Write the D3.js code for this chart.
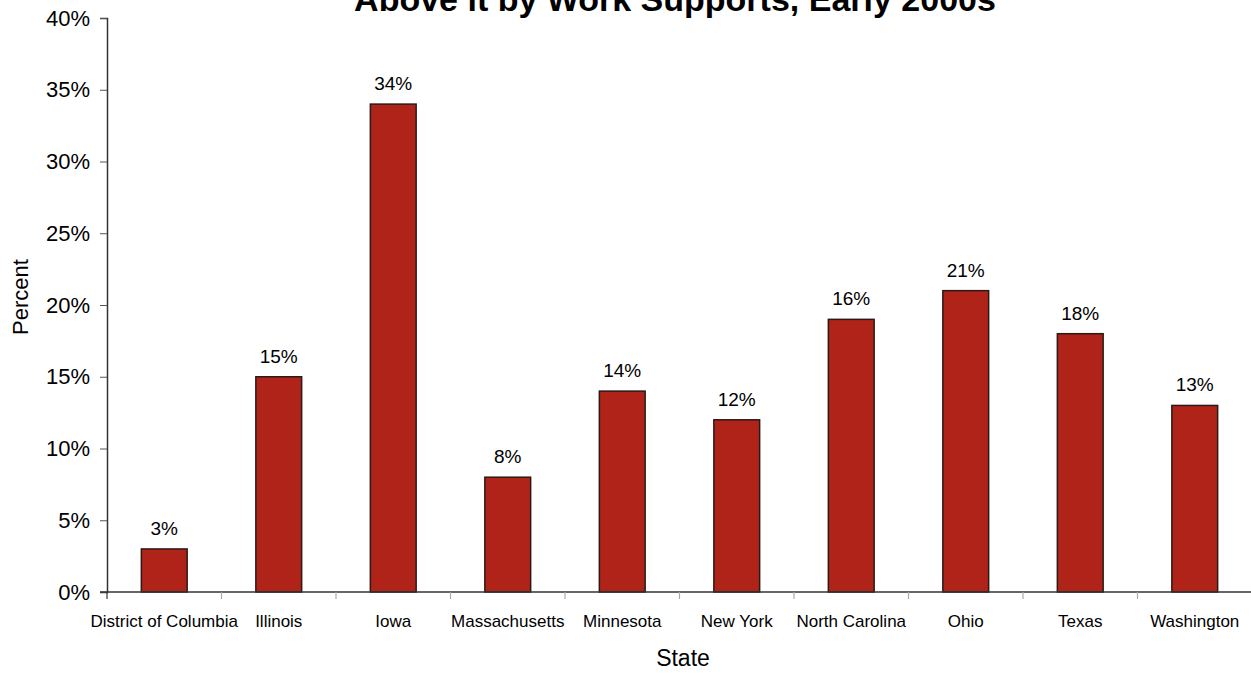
<!DOCTYPE html>
<html>
<head>
<meta charset="utf-8">
<script src="https://cdn.jsdelivr.net/npm/d3@7"></script>
<style>
  body { margin: 0; background: #fff; }
  svg text { font-family: "Liberation Sans", Arial, sans-serif; fill: #000; }
</style>
</head>
<body>
<script>
  var states = ["District of Columbia", "Illinois", "Iowa", "Massachusetts", "Minnesota",
                "New York", "North Carolina", "Ohio", "Texas", "Washington"];
  var values = [3, 15, 34, 8, 14, 12, 19, 21, 18, 13];
  var valueLabels = ["3%", "15%", "34%", "8%", "14%", "12%", "16%", "21%", "18%", "13%"];
  var yTicks = [0, 5, 10, 15, 20, 25, 30, 35, 40];

  var width = 1251, height = 673;

  var svg = d3.select("body").append("svg")
    .attr("width", width)
    .attr("height", height);

  var x = d3.scaleBand()
    .domain(states)
    .range([107, 1252])
    .paddingInner(0.6)
    .paddingOuter(0.3);

  var y = d3.scaleLinear()
    .domain([0, 40])
    .range([592, 18]);

  // title (its top runs off the picture, as in the original)
  svg.append("text")
    .attr("x", 675).attr("y", 11)
    .attr("text-anchor", "middle")
    .style("font-size", "34px")
    .style("font-weight", "bold")
    .text("Above it by Work Supports, Early 2000s");

  // bars
  svg.selectAll("rect.bar").data(states).enter().append("rect")
    .attr("class", "bar")
    .attr("x", function(d) { return x(d); })
    .attr("y", function(d, i) { return y(values[i]); })
    .attr("width", x.bandwidth())
    .attr("height", function(d, i) { return y(0) - y(values[i]); })
    .attr("fill", "#b02318")
    .attr("stroke", "#2a1a18")
    .attr("stroke-width", 1.5);

  svg.selectAll("text.val").data(states).enter().append("text")
    .attr("class", "val")
    .attr("x", function(d) { return x(d) + x.bandwidth() / 2; })
    .attr("y", function(d, i) { return y(values[i]) - 14; })
    .attr("text-anchor", "middle")
    .style("font-size", "19px")
    .text(function(d, i) { return valueLabels[i]; });

  // y axis
  var yAxis = svg.append("g")
    .attr("transform", "translate(107,0)")
    .call(d3.axisLeft(y).tickValues(yTicks).tickSize(7).tickPadding(10)
      .tickFormat(function(d) { return d + "%"; }));
  yAxis.select(".domain").attr("stroke", "#333").attr("stroke-width", 1.5);
  yAxis.selectAll(".tick line").attr("stroke", "#555");
  yAxis.selectAll("text").style("font-size", "22px").attr("fill", "#000")
    .style("font-family", "'Liberation Sans', Arial, sans-serif");

  // x axis: ticks at category boundaries
  svg.append("line")
    .attr("x1", 100).attr("x2", 1252)
    .attr("y1", y(0)).attr("y2", y(0))
    .attr("stroke", "#333").attr("stroke-width", 1.5);

  var bounds = states.map(function(d) { return x(d) - x.step() * x.paddingOuter(); });
  svg.selectAll("line.xt").data(bounds).enter().append("line")
    .attr("class", "xt")
    .attr("x1", function(d) { return d; }).attr("x2", function(d) { return d; })
    .attr("y1", y(0)).attr("y2", y(0) + 7)
    .attr("stroke", function(d, i) { return i === 0 ? "#333" : "#aaa"; })
    .attr("stroke-width", 1.2);

  svg.selectAll("text.cat").data(states).enter().append("text")
    .attr("class", "cat")
    .attr("x", function(d) { return x(d) + x.bandwidth() / 2; })
    .attr("y", 627)
    .attr("text-anchor", "middle")
    .style("font-size", "17px")
    .text(function(d) { return d; });

  // axis titles
  svg.append("text")
    .attr("x", 683).attr("y", 666)
    .attr("text-anchor", "middle")
    .style("font-size", "23px")
    .text("State");

  svg.append("text")
    .attr("transform", "translate(28,297) rotate(-90)")
    .attr("text-anchor", "middle")
    .style("font-size", "22px")
    .text("Percent");
</script>
</body>
</html>
